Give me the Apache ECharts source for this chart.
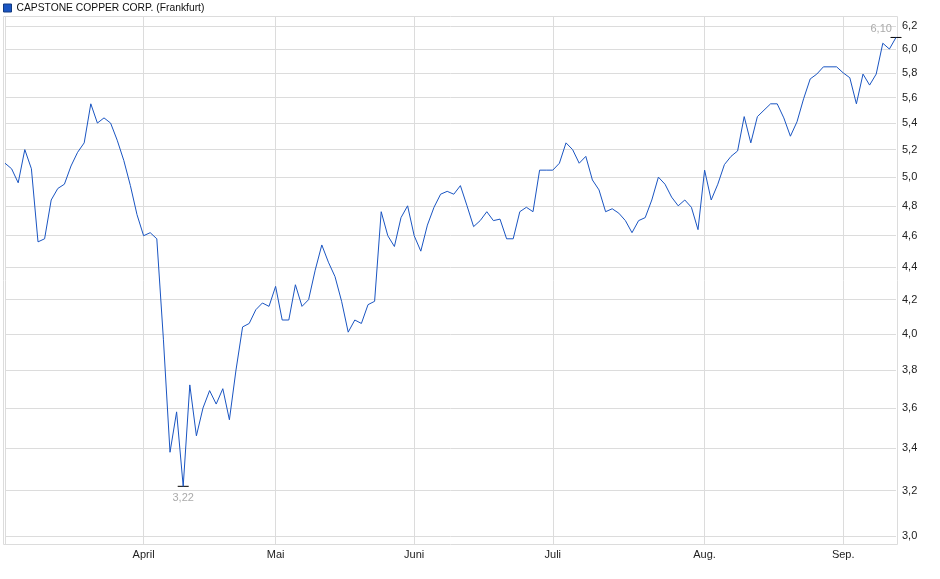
<!DOCTYPE html>
<html>
<head>
<meta charset="utf-8">
<script src="https://cdn.jsdelivr.net/npm/echarts@6/dist/echarts.min.js"></script>
<style>
  html, body { margin: 0; padding: 0; background: #fff; }
  #chart { width: 940px; height: 579px; }
</style>
</head>
<body>
<div id="chart"></div>
<script>
const seriesName = 'CAPSTONE COPPER CORP. (Frankfurt)';

// trading days (Frankfurt, 2025)
const marDays = [3, 4, 5, 6, 7, 10, 11, 12, 13, 14, 17, 18, 19, 20, 21, 24, 25, 26, 27, 28, 31];
const aprDays = [1, 2, 3, 4, 7, 8, 9, 10, 11, 14, 15, 16, 17, 22, 23, 24, 25, 28, 29, 30];
const mayDays = [2, 5, 6, 7, 8, 9, 12, 13, 14, 15, 16, 19, 20, 21, 22, 23, 26, 27, 28, 29, 30];
const junDays = [2, 3, 4, 5, 6, 9, 10, 11, 12, 13, 16, 17, 18, 19, 20, 23, 24, 25, 26, 27, 30];
const julDays = [1, 2, 3, 4, 7, 8, 9, 10, 11, 14, 15, 16, 17, 18, 21, 22, 23, 24, 25, 28, 29, 30, 31];
const augDays = [1, 4, 5, 6, 7, 8, 11, 12, 13, 14, 15, 18, 19, 20, 21, 22, 25, 26, 27, 28, 29];
const sepDays = [1, 2, 3, 4, 5, 8, 9, 10, 11];

const monthLabels = { '04': 'April', '05': 'Mai', '06': 'Juni', '07': 'Juli', '08': 'Aug.', '09': 'Sep.' };

// closing prices in EUR, one per trading day
const marPrices = [5.10, 5.06, 4.96, 5.20, 5.06, 4.56, 4.58, 4.84, 4.92, 4.95, 5.08, 5.18, 5.25, 5.55, 5.40, 5.44, 5.40, 5.27, 5.12, 4.94, 4.74];
const aprPrices = [4.60, 4.62, 4.58, 3.97, 3.38, 3.58, 3.22, 3.72, 3.46, 3.60, 3.69, 3.62, 3.70, 3.54, 3.80, 4.04, 4.06, 4.14, 4.18, 4.16];
const mayPrices = [4.28, 4.08, 4.08, 4.29, 4.16, 4.20, 4.38, 4.54, 4.43, 4.34, 4.19, 4.01, 4.08, 4.06, 4.17, 4.19, 4.76, 4.60, 4.53, 4.72, 4.80];
const junPrices = [4.60, 4.50, 4.67, 4.79, 4.88, 4.90, 4.88, 4.94, 4.80, 4.66, 4.70, 4.76, 4.70, 4.71, 4.58, 4.58, 4.76, 4.79, 4.76, 5.05, 5.05];
const julPrices = [5.05, 5.10, 5.25, 5.20, 5.10, 5.15, 4.98, 4.91, 4.76, 4.78, 4.75, 4.70, 4.62, 4.70, 4.72, 4.84, 5.00, 4.95, 4.86, 4.80, 4.84, 4.79, 4.64];
const augPrices = [5.05, 4.84, 4.95, 5.09, 5.15, 5.19, 5.45, 5.25, 5.45, 5.50, 5.55, 5.55, 5.44, 5.30, 5.41, 5.59, 5.75, 5.79, 5.85, 5.85, 5.85];
const sepPrices = [5.80, 5.76, 5.55, 5.79, 5.70, 5.79, 6.05, 6.00, 6.10];

const yTicks = [3.0, 3.2, 3.4, 3.6, 3.8, 4.0, 4.2, 4.4, 4.6, 4.8, 5.0, 5.2, 5.4, 5.6, 5.8, 6.0, 6.2];

const months = [['03', marDays], ['04', aprDays], ['05', mayDays], ['06', junDays], ['07', julDays], ['08', augDays], ['09', sepDays]];
const categories = [];
months.forEach(([m, days]) => days.forEach(d => categories.push('2025-' + m + '-' + String(d).padStart(2, '0'))));
const prices = [].concat(marPrices, aprPrices, mayPrices, junPrices, julPrices, augPrices, sepPrices);

const monthOf = i => categories[i].slice(5, 7);
const isMonthStart = i => i > 0 && monthOf(i) !== monthOf(i - 1);
const comma = (v, d) => v.toFixed(d).replace('.', ',');

const lineColor = '#1a55c2';
const gridColor = '#dcdcdc';
const font = 'Liberation Sans, Arial, sans-serif';

const chart = echarts.init(document.getElementById('chart'));
chart.setOption({
  animation: false,
  backgroundColor: '#fff',
  textStyle: { fontFamily: font },
  legend: {
    left: -2,
    top: -2,
    itemWidth: 8,
    itemHeight: 8,
    itemGap: 4,
    icon: 'rect',
    textStyle: { fontSize: 10.3, color: '#111', fontFamily: font },
    data: [{ name: seriesName, itemStyle: { color: lineColor, borderColor: '#123a80', borderWidth: 1 } }]
  },
  grid: { left: 5, right: 44, top: 16, bottom: 34 },
  graphic: [{
    type: 'rect',
    z: 0,
    shape: { x: 3.5, y: 16.5, width: 894, height: 528 },
    style: { fill: null, stroke: gridColor, lineWidth: 1 }
  }],
  xAxis: {
    type: 'category',
    data: categories,
    boundaryGap: false,
    axisLine: { show: false },
    axisTick: { show: false },
    axisLabel: {
      interval: (i) => isMonthStart(i),
      formatter: v => monthLabels[v.slice(5, 7)] || '',
      color: '#222',
      fontSize: 11,
      margin: 4
    },
    splitLine: {
      show: true,
      interval: (i) => i === 0 || isMonthStart(i),
      lineStyle: { color: gridColor, width: 1 }
    }
  },
  yAxis: {
    type: 'log',
    position: 'right',
    min: 2.962,
    max: 6.289,
    axisLine: { show: false },
    axisTick: { show: false, customValues: yTicks },
    axisLabel: {
      customValues: yTicks,
      formatter: v => comma(v, 1),
      color: '#222',
      fontSize: 11,
      margin: 6
    },
    splitLine: { show: true, lineStyle: { color: gridColor, width: 1 } }
  },
  series: [{
    name: seriesName,
    type: 'line',
    data: prices,
    showSymbol: false,
    symbol: 'none',
    z: 5,
    lineStyle: { color: lineColor, width: 1 },
    itemStyle: { color: lineColor },
    markPoint: {
      symbol: 'rect',
      symbolSize: [11, 1],
      itemStyle: { color: '#000' },
      label: { color: '#aaa', fontSize: 11, fontFamily: font, formatter: p => comma(p.value, 2) },
      data: [
        { type: 'max', label: { position: [-20, -13] } },
        { type: 'min', label: { position: 'bottom', distance: 6 } }
      ]
    }
  }]
});
</script>
</body>
</html>
